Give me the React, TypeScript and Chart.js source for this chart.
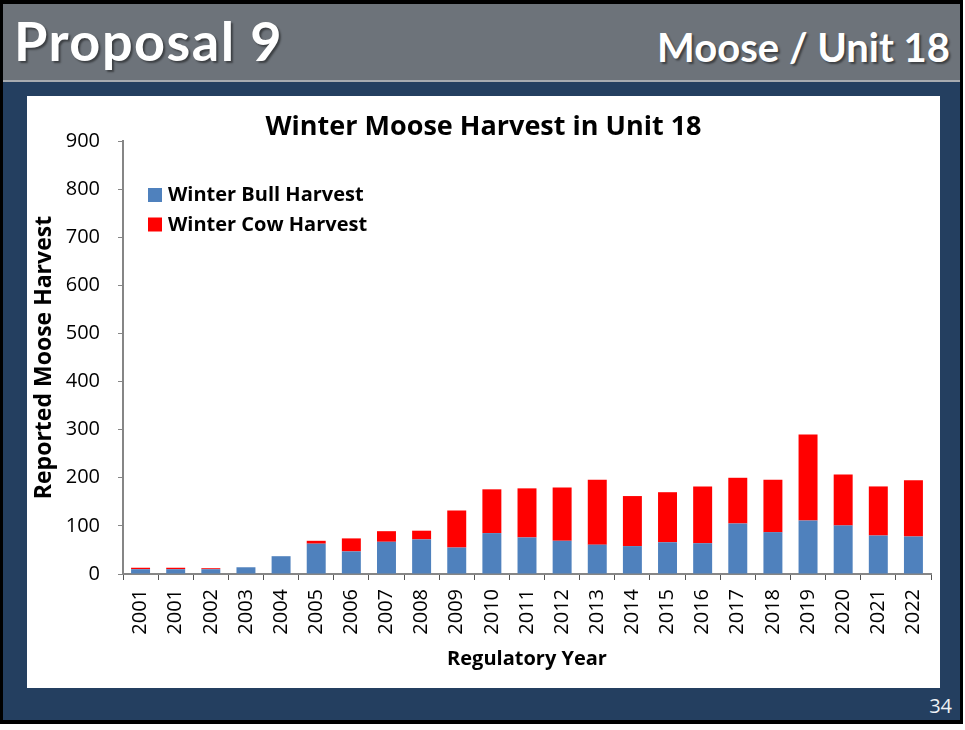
import React, { useEffect, useRef } from "react";
import { Chart, registerables } from "chart.js";

Chart.register(...registerables);

const years: string[] = [
  "2001", "2001", "2002", "2003", "2004", "2005", "2006", "2007", "2008", "2009", "2010", "2011",
  "2012", "2013", "2014", "2015", "2016", "2017", "2018", "2019", "2020", "2021", "2022",
];
const bullHarvest: number[] = [10, 10, 10, 14, 37, 63, 47, 67, 72, 55, 85, 76, 69, 61, 58, 66, 64, 105, 87, 111, 101, 80, 78];
const cowHarvest: number[] = [3, 3, 2, 0, 0, 6, 27, 22, 18, 77, 91, 102, 111, 135, 104, 104, 118, 95, 109, 179, 106, 102, 117];
const seriesNames: string[] = ["Winter Bull Harvest", "Winter Cow Harvest"];
const seriesColors: string[] = ["#4F81BD", "#FF0000"];

const FONT = "'Open Sans', 'Noto Sans', sans-serif";

const legendPlugin = {
  id: "insideLegend",
  afterDraw(chart: any) {
    const { ctx, chartArea } = chart;
    ctx.save();
    ctx.font = `bold 20px ${FONT}`;
    ctx.textBaseline = "middle";
    ctx.textAlign = "left";
    chart.data.datasets.forEach((ds: any, i: number) => {
      const x = chartArea.left + 25;
      const y = chartArea.top + 47 + i * 29.5;
      ctx.fillStyle = ds.backgroundColor;
      ctx.fillRect(x, y, 14, 14);
      ctx.fillStyle = "#000";
      ctx.fillText(ds.label, x + 20, y + 7.5);
    });
    ctx.restore();
  },
};

export default function App() {
  const ref = useRef<HTMLCanvasElement | null>(null);

  useEffect(() => {
    if (!ref.current) return;
    const chart = new Chart(ref.current, {
      type: "bar",
      data: {
        labels: years,
        datasets: [
          { label: seriesNames[0], data: bullHarvest, backgroundColor: seriesColors[0], barPercentage: 0.54, categoryPercentage: 1 },
          { label: seriesNames[1], data: cowHarvest, backgroundColor: seriesColors[1], barPercentage: 0.54, categoryPercentage: 1 },
        ],
      },
      options: {
        responsive: false,
        animation: false,
        devicePixelRatio: 1,
        layout: { padding: { left: 0, right: 0, top: 0, bottom: 0 } },
        plugins: {
          legend: { display: false },
          tooltip: { enabled: false },
          title: {
            display: true,
            text: "Winter Moose Harvest in Unit 18",
            color: "#000",
            font: { family: FONT, size: 27, weight: "bold", lineHeight: 1 },
            padding: { top: 18, bottom: 0 },
          },
        },
        scales: {
          x: {
            stacked: true,
            afterFit: (scale: any) => {
              scale.height = 114;
              scale.paddingLeft = 0;
              scale.paddingRight = 9;
            },
            grid: { display: true, offset: true, drawOnChartArea: false, drawTicks: true, tickLength: 6, color: "#555" },
            border: { display: true, color: "#868686", width: 2 },
            ticks: {
              color: "#000",
              font: { family: FONT, size: 20 },
              minRotation: 90,
              maxRotation: 90,
              autoSkip: false,
              padding: 9,
            },
            title: {
              display: true,
              text: "Regulatory Year",
              color: "#000",
              font: { family: FONT, size: 20, weight: "bold" },
              padding: { top: 0, bottom: 17 },
            },
          },
          y: {
            stacked: true,
            min: 0,
            max: 900,
            afterFit: (scale: any) => {
              scale.width = 96;
            },
            grid: { display: true, drawOnChartArea: false, drawTicks: true, tickLength: 5, color: "#868686" },
            border: { display: true, color: "#868686", width: 2 },
            ticks: {
              stepSize: 100,
              color: "#000",
              font: { family: FONT, size: 20 },
              padding: 18,
            },
            title: {
              display: true,
              text: "Reported Moose Harvest",
              color: "#000",
              font: { family: FONT, size: 23, weight: "bold" },
              padding: { top: 4, bottom: 0 },
            },
          },
        },
      },
      plugins: [legendPlugin],
    });
    return () => chart.destroy();
  }, []);

  const abs = (s: React.CSSProperties): React.CSSProperties => ({ position: "absolute", ...s });

  return (
    <div style={abs({ left: 0, top: 0, width: 965, height: 730, background: "#fff", overflow: "hidden" })}>
      <div style={abs({ left: 0, top: 0, width: 963, height: 724, background: "#000" })} />
      <div style={abs({ left: 3, top: 4, width: 957, height: 716, background: "#243F60" })} />
      <div style={abs({ left: 3, top: 4, width: 957, height: 76, background: "#6D737A" })} />
      <div style={abs({ left: 3, top: 80, width: 957, height: 2, background: "#A7ABB0" })} />
      <div
        style={abs({
          left: 14,
          top: 8,
          lineHeight: "66px",
          fontFamily: "Lato, sans-serif",
          fontWeight: 700,
          fontSize: 54,
          letterSpacing: 1.5,
          color: "#fff",
          textShadow: "2px 2px 2px rgba(0,0,0,0.45)",
          whiteSpace: "nowrap",
        })}
      >
        Proposal 9
      </div>
      <div
        style={abs({
          right: 965 - 950,
          top: 22,
          lineHeight: "50px",
          fontFamily: "Lato, sans-serif",
          fontWeight: 700,
          fontSize: 40,
          color: "#fff",
          textShadow: "2px 2px 2px rgba(0,0,0,0.45)",
          whiteSpace: "nowrap",
        })}
      >
        Moose / Unit 18
      </div>
      <div style={abs({ left: 27, top: 96, width: 913, height: 592, background: "#fff" })}>
        <canvas ref={ref} width={913} height={592} style={{ display: "block", width: 913, height: 592 }} />
      </div>
      <div
        style={abs({
          right: 965 - 952,
          top: 694,
          lineHeight: "24px",
          fontFamily: FONT,
          fontSize: 20,
          color: "#EEF1F5",
        })}
      >
        34
      </div>
    </div>
  );
}
